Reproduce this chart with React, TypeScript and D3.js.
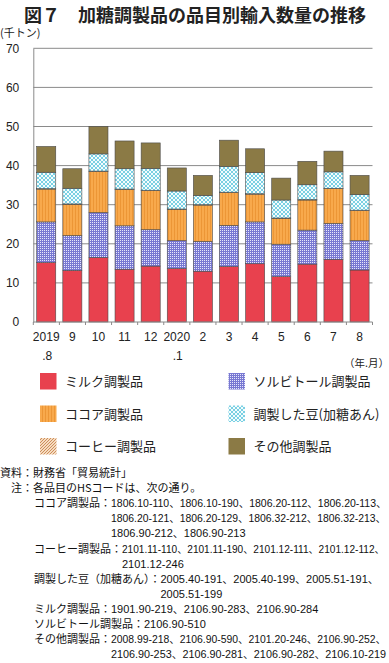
import { useEffect, useRef } from 'react';
import * as d3 from 'd3';

// 期間（年.月）
const periods = ['2019.8', '9', '10', '11', '12', '2020.1', '2', '3', '4', '5', '6', '7', '8'];

// 品目別輸入数量（千トン）
const milk = [15.2, 13.2, 16.5, 13.5, 14.3, 13.7, 13.0, 14.2, 14.9, 11.6, 14.8, 16.0, 13.3];
const sorbitol = [10.4, 8.9, 11.5, 11.1, 9.3, 7.1, 7.6, 10.5, 10.7, 8.3, 8.7, 9.2, 7.5];
const cocoa = [8.4, 8.0, 10.5, 9.3, 10.0, 8.0, 9.3, 8.4, 7.1, 6.6, 7.7, 8.9, 7.7];
const coffee = [0.1, 0.1, 0.1, 0.1, 0.1, 0.1, 0.1, 0.1, 0.1, 0.1, 0.1, 0.1, 0.1];
const beans = [4.2, 4.0, 4.4, 5.2, 5.6, 4.6, 2.4, 6.6, 5.4, 4.6, 3.8, 4.2, 4.0];
const other = [6.6, 5.0, 7.0, 7.1, 6.5, 5.9, 5.1, 6.7, 6.1, 5.6, 6.0, 5.3, 4.9];

const seriesKeys = ['milk', 'sorbitol', 'cocoa', 'coffee', 'beans', 'other'];
const seriesNames = ['ミルク調製品', 'ソルビトール調製品', 'ココア調製品', 'コーヒー調製品', '調製した豆(加糖あん)', 'その他調製品'];
const yTicks = [0, 10, 20, 30, 40, 50, 60, 70];

const title = '図７　加糖調製品の品目別輸入数量の推移';
const yUnit = '(千トン)';
const xUnit = '（年.月）';

const sourceNote = '資料：財務省「貿易統計」';
const headNote = '注：各品目のHSコードは、次の通り。';
const hsLabels = ['ココア調製品', 'コーヒー調製品', '調製した豆（加糖あん）', 'ミルク調製品', 'ソルビトール調製品', 'その他調製品'];
const hsCodes = [
  ['1806.10-110、1806.10-190、1806.20-112、1806.20-113、', '1806.20-121、1806.20-129、1806.32-212、1806.32-213、', '1806.90-212、1806.90-213'],
  ['2101.11-110、2101.11-190、2101.12-111、2101.12-112、', '2101.12-246'],
  ['2005.40-191、2005.40-199、2005.51-191、', '2005.51-199'],
  ['1901.90-219、2106.90-283、2106.90-284'],
  ['2106.90-510'],
  ['2008.99-218、2106.90-590、2101.20-246、2106.90-252、', '2106.90-253、2106.90-281、2106.90-282、2106.10-219']
];

const W = 389;
const H = 663;
const FONT = '"Liberation Sans", Arial, "Noto Sans CJK JP", sans-serif';
const JFONT = '"Noto Sans CJK JP", sans-serif';

export default function App() {
  const svgRef = useRef<SVGSVGElement>(null);

  useEffect(() => {
    if (!svgRef.current) return;
    const svg = d3.select(svgRef.current);
    svg.selectAll('*').remove();

    const plot = { left: 33.3, right: 372.5, top: 48.3, bottom: 322 };

    // patterns
    const defs = svg.append('defs');
    const sorb = defs.append('pattern').attr('id', 'p-sorb').attr('patternUnits', 'userSpaceOnUse').attr('width', 2).attr('height', 2);
    sorb.append('rect').attr('width', 2).attr('height', 2).attr('fill', '#7878d2');
    sorb.append('rect').attr('width', 1).attr('height', 1).attr('fill', '#e6e6fa');

    const coc = defs.append('pattern').attr('id', 'p-cocoa').attr('patternUnits', 'userSpaceOnUse').attr('width', 3).attr('height', 3);
    coc.append('rect').attr('width', 3).attr('height', 3).attr('fill', '#f8a94c');
    coc.append('rect').attr('width', 1).attr('height', 3).attr('fill', '#ec9636');

    const bea = defs.append('pattern').attr('id', 'p-beans').attr('patternUnits', 'userSpaceOnUse').attr('width', 4).attr('height', 4);
    bea.append('rect').attr('width', 4).attr('height', 4).attr('fill', '#f4fcfd');
    bea.append('path').attr('d', 'M0,0L2,2L4,0M0,4L2,2L4,4').attr('stroke', '#6ccbe0').attr('stroke-width', 0.9).attr('fill', 'none');

    const cof = defs.append('pattern').attr('id', 'p-coffee').attr('patternUnits', 'userSpaceOnUse').attr('width', 3).attr('height', 3);
    cof.append('rect').attr('width', 3).attr('height', 3).attr('fill', '#f6dcc0');
    cof.append('path').attr('d', 'M0,3L3,0M-1,1L1,-1M2,4L4,2').attr('stroke', '#c88650').attr('stroke-width', 0.9);

    const fills: Record<string, string> = {
      milk: '#e8414e',
      sorbitol: 'url(#p-sorb)',
      cocoa: 'url(#p-cocoa)',
      coffee: 'url(#p-coffee)',
      beans: 'url(#p-beans)',
      other: '#8b7a45'
    };

    // title
    svg.append('text').attr('x', 24).attr('y', 22).attr('font-family', JFONT).attr('font-size', 18)
      .attr('font-weight', 'bold').attr('fill', '#222').text(title);
    svg.append('text').attr('x', 0).attr('y', 37).attr('font-family', JFONT).attr('font-size', 11)
      .attr('fill', '#222').text(yUnit);

    const x = d3.scaleBand<string>().domain(periods).range([plot.left, plot.right]).paddingInner(0.27).paddingOuter(0.13);
    const y = d3.scaleLinear().domain([0, 70]).range([plot.bottom, plot.top]);

    // grid
    svg.append('g').selectAll('line').data(yTicks.filter(d => d > 0)).enter().append('line')
      .attr('x1', plot.left).attr('x2', plot.right)
      .attr('y1', d => y(d)).attr('y2', d => y(d))
      .attr('stroke', '#8a8a8a').attr('stroke-width', 1);

    // y axis
    const yAxis = svg.append('g').attr('transform', `translate(${plot.left},0)`)
      .call(d3.axisLeft(y).tickValues(yTicks).tickSize(0).tickPadding(14));
    yAxis.select('.domain').attr('stroke', '#8a8a8a');
    yAxis.selectAll('text').attr('font-family', FONT).attr('font-size', 12).attr('fill', '#222');

    // stacked bars
    const table = periods.map((p, i) => ({
      period: p, milk: milk[i], sorbitol: sorbitol[i], cocoa: cocoa[i], coffee: coffee[i], beans: beans[i], other: other[i]
    }));
    const stacked = d3.stack<any>().keys(seriesKeys)(table);
    svg.append('g').selectAll('g').data(stacked).enter().append('g')
      .attr('fill', d => fills[d.key])
      .selectAll('rect').data(d => d).enter().append('rect')
      .attr('x', d => x(d.data.period)!)
      .attr('width', x.bandwidth())
      .attr('y', d => y(d[1]))
      .attr('height', d => y(d[0]) - y(d[1]))
      .attr('stroke', '#4a4a4a').attr('stroke-width', 0.6);

    // x axis with ticks at band edges
    const xa = svg.append('g');
    xa.append('line').attr('x1', plot.left).attr('x2', plot.right).attr('y1', plot.bottom).attr('y2', plot.bottom)
      .attr('stroke', '#8a8a8a');
    const edges = d3.range(periods.length + 1).map(i => plot.left + (i * (plot.right - plot.left)) / periods.length);
    xa.selectAll('.tk').data(edges).enter().append('line').attr('class', 'tk')
      .attr('x1', d => d).attr('x2', d => d).attr('y1', plot.bottom).attr('y2', plot.bottom + 3)
      .attr('stroke', '#8a8a8a');
    periods.forEach(p => {
      const parts = p.includes('.') ? [p.split('.')[0], '.' + p.split('.')[1]] : [p];
      const cx = x(p)! + x.bandwidth() / 2;
      parts.forEach((t, k) => {
        xa.append('text').attr('x', cx + (k === 1 ? 1 : 0)).attr('y', 341 + k * 19)
          .attr('text-anchor', 'middle').attr('font-family', FONT).attr('font-size', 12).attr('fill', '#222').text(t);
      });
    });
    svg.append('text').attr('x', 389).attr('y', 367).attr('text-anchor', 'end').attr('font-family', JFONT)
      .attr('font-size', 10.5).attr('fill', '#222').text(xUnit);

    // legend
    const legendOrder = [0, 2, 3, 1, 4, 5];
    legendOrder.forEach((si, idx) => {
      const col = Math.floor(idx / 3);
      const row = idx % 3;
      const lx = col === 0 ? 40 : 228.5;
      const ly = 373 + row * 32.5;
      svg.append('rect').attr('x', lx).attr('y', ly).attr('width', 16.5).attr('height', 16.5)
        .attr('fill', fills[seriesKeys[si]]);
      svg.append('text').attr('x', lx + 25).attr('y', ly + 13).attr('font-family', JFONT).attr('font-size', 13)
        .attr('fill', '#222').text(seriesNames[si]);
    });

    // notes
    const lh = 15.1;
    const nf = 11;
    const notes = svg.append('g').attr('font-family', FONT).attr('font-size', nf).attr('fill', '#111');
    notes.append('text').attr('font-family', JFONT).attr('x', 0).attr('y', 477).text(sourceNote);
    notes.append('text').attr('font-family', JFONT).attr('x', nf).attr('y', 477 + lh).text(headNote);
    let line = 2;
    hsLabels.forEach((lab, i) => {
      const yy = 477 + line * lh;
      const t = notes.append('text').attr('font-family', JFONT).attr('x', 34).attr('y', yy).text(lab + '：');
      const w = (t.node() as SVGTextElement).getComputedTextLength();
      hsCodes[i].forEach((c, k) => {
        const ct = notes.append('text').attr('x', 34 + w).attr('y', yy + k * lh).text(c);
        // shrink a line that would run past the right edge
        const room = W - 2 - (34 + w);
        const len = (ct.node() as SVGTextElement).getComputedTextLength();
        if (len > room) ct.attr('font-size', Math.floor((nf * room / len) * 10) / 10);
      });
      line += hsCodes[i].length;
    });
  }, []);

  return (
    <div style={{ position: 'absolute', left: 0, top: 0, width: W, height: H, background: '#fff' }}>
      <svg ref={svgRef} width={W} height={H}></svg>
    </div>
  );
}
